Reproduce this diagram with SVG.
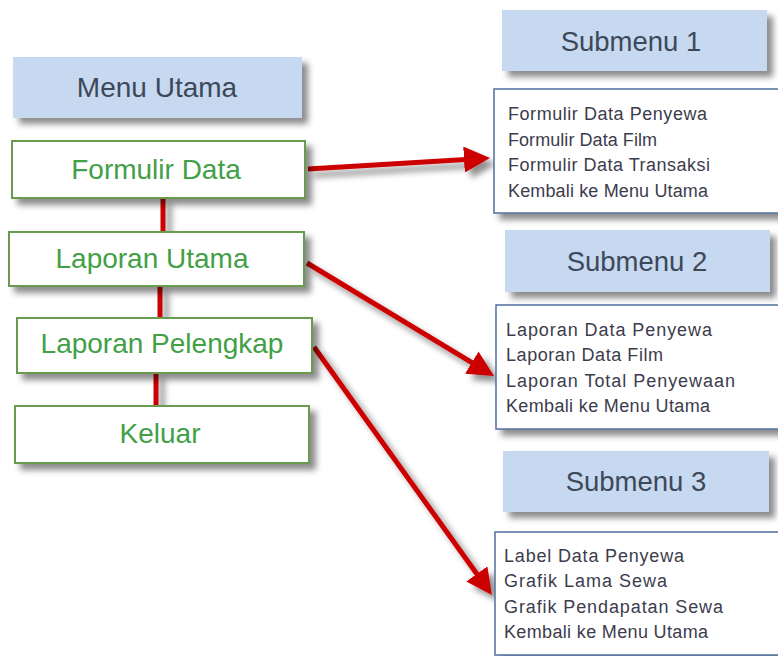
<svg xmlns="http://www.w3.org/2000/svg" width="778" height="656" viewBox="0 0 778 656">
<style>
text{font-family:"Liberation Sans",Arial,sans-serif}
.hdr{fill:#c6d9f1}
.hdrt{font-size:28px;fill:#3d4858;text-anchor:middle}
.node{fill:#fff;stroke:#6b9a4e;stroke-width:2}
.nodet{font-size:28px;fill:#42a046;text-anchor:middle}
.list{fill:#fff;stroke:#4f6f9f;stroke-width:1.5}
.item{font-size:18px;fill:#3c3c4c}
.conn{stroke:#cc0000;stroke-width:5;fill:none}
</style>
<defs>
<filter id="sh" x="-20%" y="-20%" width="150%" height="160%">
<feDropShadow dx="6" dy="6" stdDeviation="3" flood-color="#000" flood-opacity="0.45"/>
</filter>
<marker id="ah" markerUnits="userSpaceOnUse" markerWidth="26" markerHeight="26" refX="6" refY="13" orient="auto" viewBox="0 0 26 26">
<path d="M0,0 L26,13 L0,26 z" fill="#cc0000"/>
</marker>
</defs>
<rect width="778" height="656" fill="#fff"/>

<g id="connectors" filter="url(#sh)">
<line class="conn" x1="163" y1="198" x2="163" y2="232"/>
<line class="conn" x1="160" y1="286" x2="160" y2="318"/>
<line class="conn" x1="156" y1="373" x2="156" y2="406"/>
<line class="conn" x1="308" y1="169" x2="470" y2="159.2" marker-end="url(#ah)"/>
<line class="conn" x1="307" y1="263" x2="476.9" y2="365.7" marker-end="url(#ah)"/>
<line class="conn" x1="314" y1="347" x2="480.3" y2="578.8" marker-end="url(#ah)"/>
</g>

<g id="menu-utama">
<rect class="hdr" x="13" y="57" width="289" height="61" filter="url(#sh)"/>
<text class="hdrt" x="157" y="97">Menu Utama</text>
</g>
<g id="formulir-data">
<rect class="node" x="12" y="141" width="293" height="57" filter="url(#sh)"/>
<text class="nodet" x="156" y="179">Formulir Data</text>
</g>
<g id="laporan-utama">
<rect class="node" x="9" y="232" width="295" height="54" filter="url(#sh)"/>
<text class="nodet" x="152" y="268">Laporan Utama</text>
</g>
<g id="laporan-pelengkap">
<rect class="node" x="17" y="318" width="295" height="55" filter="url(#sh)"/>
<text class="nodet" x="162" y="353">Laporan Pelengkap</text>
</g>
<g id="keluar">
<rect class="node" x="15" y="406" width="294" height="57" filter="url(#sh)"/>
<text class="nodet" x="160" y="443">Keluar</text>
</g>

<g id="submenu-1">
<rect class="hdr" x="502" y="10" width="265" height="61" filter="url(#sh)"/>
<text class="hdrt" x="631" y="51" style="font-size:27.5px">Submenu 1</text>
</g>
<g id="submenu-1-list">
<rect class="list" x="494" y="89" width="300" height="124" filter="url(#sh)"/>
<text class="item" x="508" y="120" textLength="199" lengthAdjust="spacing">Formulir Data Penyewa</text>
<text class="item" x="508" y="146" textLength="149" lengthAdjust="spacing">Formulir Data Film</text>
<text class="item" x="508" y="171" textLength="202" lengthAdjust="spacing">Formulir Data Transaksi</text>
<text class="item" x="508" y="197" textLength="200" lengthAdjust="spacing">Kembali ke Menu Utama</text>
</g>

<g id="submenu-2">
<rect class="hdr" x="505" y="230" width="265" height="62" filter="url(#sh)"/>
<text class="hdrt" x="637" y="271" style="font-size:27.5px">Submenu 2</text>
</g>
<g id="submenu-2-list">
<rect class="list" x="496" y="305" width="300" height="124" filter="url(#sh)"/>
<text class="item" x="506" y="336" textLength="206" lengthAdjust="spacing">Laporan Data Penyewa</text>
<text class="item" x="506" y="361" textLength="157" lengthAdjust="spacing">Laporan Data Film</text>
<text class="item" x="506" y="387" textLength="229" lengthAdjust="spacing">Laporan Total Penyewaan</text>
<text class="item" x="506" y="412" textLength="204" lengthAdjust="spacing">Kembali ke Menu Utama</text>
</g>

<g id="submenu-3">
<rect class="hdr" x="503" y="451" width="266" height="61" filter="url(#sh)"/>
<text class="hdrt" x="636" y="491" style="font-size:27.5px">Submenu 3</text>
</g>
<g id="submenu-3-list">
<rect class="list" x="495" y="532" width="300" height="123" filter="url(#sh)"/>
<text class="item" x="504" y="562" textLength="180" lengthAdjust="spacing">Label Data Penyewa</text>
<text class="item" x="504" y="587" textLength="163" lengthAdjust="spacing">Grafik Lama Sewa</text>
<text class="item" x="504" y="613" textLength="219" lengthAdjust="spacing">Grafik Pendapatan Sewa</text>
<text class="item" x="504" y="638" textLength="204" lengthAdjust="spacing">Kembali ke Menu Utama</text>
</g>
</svg>
